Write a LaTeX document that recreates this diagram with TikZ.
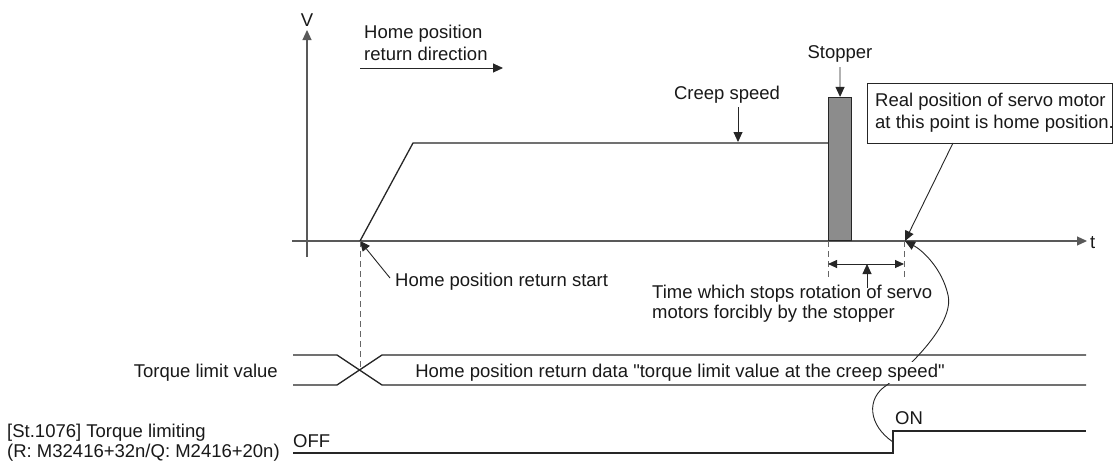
\documentclass[tikz,border=0pt]{standalone}
\usepackage{fontspec}
\setmainfont{Liberation Sans}[Ligatures=TeXOff]
\usetikzlibrary{arrows.meta}
\begin{document}
\begin{tikzpicture}[x=1pt,y=-1pt,
  every node/.style={font=\fontsize{18.5}{22}\selectfont, inner sep=0pt, text=black!90},
  axisline/.style={draw=black!65, line width=1.1pt},
  sigline/.style={draw=black!85, line width=1.3pt},
  ann/.style={draw=black!85, line width=0.9pt},
  tipA/.style={-{Triangle[length=10pt,width=9pt]}},
  tipB/.style={{Triangle[length=9pt,width=8pt]}-{Triangle[length=9pt,width=8pt]}},
  dashln/.style={draw=black!60, line width=0.9pt, dash pattern=on 6pt off 4pt}]

\fill[white] (0,0) rectangle (1113,461);
\useasboundingbox (0,0) rectangle (1113,461);

% axes
\coordinate (vbot) at (307,257);
\coordinate (vtop) at (307,30);
\draw[axisline,tipA] (vbot) -- (vtop);
\node (V) at (307,20) {V};
\coordinate (tleft) at (292,241);
\coordinate (tright) at (1087,241);
\draw[axisline,tipA] (tleft) -- (tright);
\node[anchor=west] (t) at (1090,243) {t};

% direction
\node[anchor=north west, align=left] (dir) at (364,25) {Home position\\return direction};
\coordinate (dirA) at (360,68);
\coordinate (dirB) at (503,68);
\draw[ann,tipA] (dirA) -- (dirB);

% speed profile
\coordinate (hs) at (360,241);
\coordinate (acc) at (413,143);
\coordinate (stopL) at (828,143);
\draw[sigline] (hs) -- (acc) -- (stopL);

% stopper
\node[draw=black!85, fill=black!45, line width=1.1pt, minimum width=23pt, minimum height=143pt, anchor=south west] (stopper) at (828,241) {};
\node[anchor=base] (stopperlbl) at (840,58) {Stopper};
\coordinate (stopA) at (840,67);
\draw[ann,tipA] (stopA) -- (stopper.north);

% creep speed
\node[anchor=base] (creep) at (727,99) {Creep speed};
\coordinate (creepA) at (738,107);
\coordinate (creepB) at (738,142);
\draw[ann,tipA] (creepA) -- (creepB);

% real position box
\node[draw=black!85, line width=0.9pt, minimum width=245pt, minimum height=60pt, anchor=north west] (rpbox) at (867,83) {};
\node[anchor=north west, align=left] (rptext) at (875,93) {Real position of servo motor\\at this point is home position.};
\coordinate (rpA) at (953,143);
\coordinate (rpt) at (905,241);
\draw[ann,tipA] (rpA) -- (rpt);

% home position return start
\node[anchor=base west] (hstext) at (395,286) {Home position return start};
\coordinate (hsA) at (390,278);
\draw[ann,tipA] (hsA) -- (hs);

% dashed
\coordinate (cross) at (360,370);
\draw[dashln] (hs) -- (cross);
\coordinate (d1a) at (828,241);
\coordinate (d1b) at (828,280);
\coordinate (d2a) at (904,241);
\coordinate (d2b) at (904,280);
\draw[dashln] (d1a) -- (d1b);
\draw[dashln] (d2a) -- (d2b);
\coordinate (dimL) at (828,264);
\coordinate (dimR) at (904,264);
\draw[ann,tipB] (dimL) -- (dimR);
\coordinate (upA) at (867,288);
\coordinate (upB) at (867,264);
\draw[ann,tipA] (upA) -- (upB);
\node[anchor=north west, align=left, font=\fontsize{18.5}{20}\selectfont] (timetext) at (652,284.5) {Time which stops rotation of servo\\motors forcibly by the stopper};

% curve
\coordinate (stepmid) at (893,442);
\draw[ann,tipA] (stepmid) .. controls (868,425) and (866,398) .. (887,385)
   .. controls (905,370) and (955,325) .. (948,295)
   .. controls (942,268) and (922,250) .. (rpt);

% torque band
\draw[sigline] (293,355) -- (337,355) -- (382,385) -- (1086,385);
\draw[sigline] (293,385) -- (337,385) -- (382,355) -- (1086,355);
\node[anchor=base east] (tlv) at (278,377) {Torque limit value};
\node[anchor=base, fill=white, inner ysep=2pt] (bandtext) at (680,377) {Home position return data "torque limit value at the creep speed"};

% ON/OFF
\draw[sigline] (293,453) -- (893,453) -- (893,431) -- (1086,431);
\node[anchor=base west] (off) at (293,447) {OFF};
\node[anchor=base west] (on) at (895,424) {ON};
\node[anchor=north west, align=left, font=\fontsize{18.5}{20}\selectfont] (stlbl) at (7,424) {[St.1076] Torque limiting\\(R: M32416+32n/Q: M2416+20n)};
\end{tikzpicture}
\end{document}
